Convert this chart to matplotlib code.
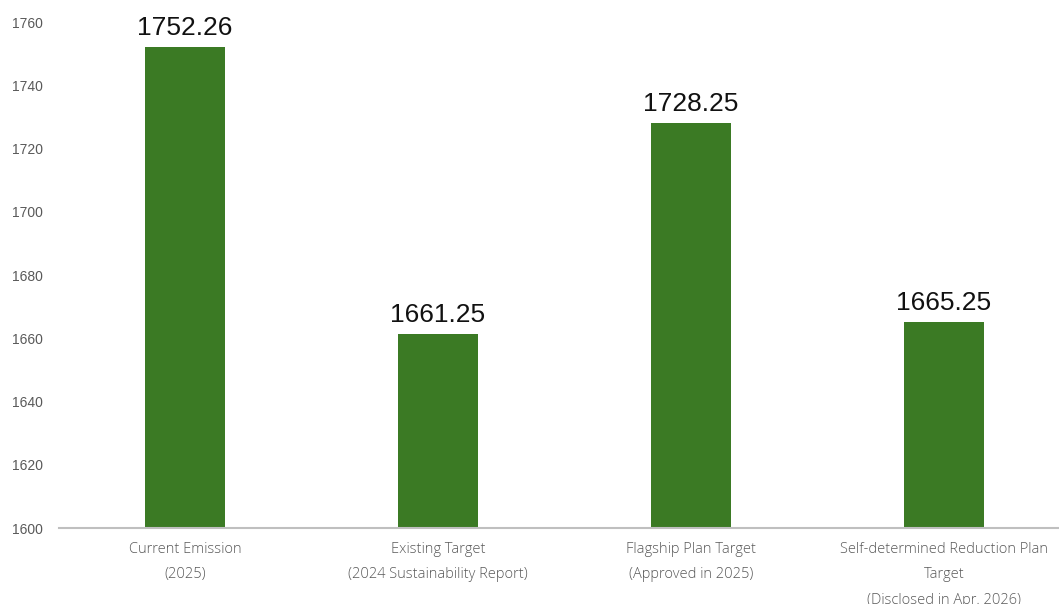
import matplotlib
matplotlib.use("Agg")
import matplotlib.pyplot as plt

categories = [
    "Current Emission\n(2025)",
    "Existing Target\n(2024 Sustainability Report)",
    "Flagship Plan Target\n(Approved in 2025)",
    "Self-determined Reduction Plan\nTarget\n(Disclosed in Apr. 2026)",
]
values = [1752.26, 1661.25, 1728.25, 1665.25]
yticks = [1600, 1620, 1640, 1660, 1680, 1700, 1720, 1740, 1760]

BAR = "#3b7a24"
AXIS = "#bfbfbf"
TICK = "#595959"

fig = plt.figure(figsize=(10.59, 6.04), dpi=100)
fig.patch.set_facecolor("white")
ax = fig.add_axes([58.5 / 1059, 76 / 604, 1012 / 1059, 528 / 604])

x = range(len(categories))
bars = ax.bar(x, values, width=0.32, color=BAR, zorder=2)
ax.set_ylim(1600, 1767)
ax.set_xlim(-0.5, len(categories) - 0.5)
ax.set_yticks(yticks)
ax.set_yticklabels([str(t) for t in yticks], color=TICK, fontsize=10,
                   family="Liberation Sans")
ax.set_xticks(list(x))
ax.set_xticklabels(categories, color=TICK, fontsize=10.5, family="Open Sans",
                   fontweight="light", linespacing=1.95)
ax.tick_params(axis="y", length=0, pad=11.5)
ax.tick_params(axis="x", length=0, pad=10)

for s in ("top", "right", "left"):
    ax.spines[s].set_visible(False)
ax.spines["bottom"].set_color(AXIS)
ax.spines["bottom"].set_linewidth(1.5)
ax.spines["bottom"].set_zorder(3)

for b, v in zip(bars, values):
    ax.annotate(f"{v:.2f}", (b.get_x() + b.get_width() / 2, v),
                xytext=(0, 5), textcoords="offset points", ha="center",
                va="bottom", fontsize=19, color="#111111",
                family="Liberation Sans")

fig.savefig("out.png", dpi=100, facecolor="white")
